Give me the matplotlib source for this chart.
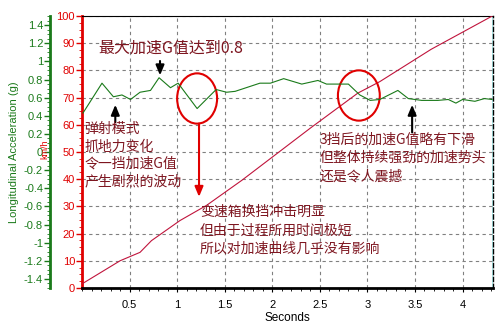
import matplotlib.pyplot as plt
from matplotlib.patches import Ellipse
from matplotlib.ticker import MultipleLocator

plt.rcParams['font.family'] = ['Liberation Sans', 'DejaVu Sans']

# speed trace (km/h)
speed_t = [0.0, 0.40, 0.61, 0.73, 1.03, 1.31, 1.68, 2.40, 2.90, 3.13, 3.67, 4.31]
speed_kmh = [1.5, 10.0, 13.1, 17.4, 24.8, 30.4, 39.6, 58.8, 71.7, 75.9, 87.8, 100.0]

# longitudinal acceleration trace (g)
acc_t = [0.01, 0.21, 0.33, 0.42, 0.51, 0.61, 0.72, 0.81, 0.93, 1.01, 1.21, 1.41,
         1.52, 1.61, 1.87, 1.98, 2.12, 2.31, 2.48, 2.57, 2.80, 2.92, 3.03, 3.13,
         3.32, 3.43, 3.57, 3.74, 3.85, 3.93, 4.00, 4.13, 4.23, 4.31]
acc_g = [0.43, 0.76, 0.61, 0.63, 0.58, 0.66, 0.68, 0.82, 0.71, 0.76, 0.48, 0.69,
         0.66, 0.67, 0.76, 0.76, 0.81, 0.75, 0.79, 0.75, 0.75, 0.63, 0.57, 0.58,
         0.68, 0.59, 0.57, 0.57, 0.58, 0.54, 0.58, 0.56, 0.59, 0.58]

x_ticks = [0.5, 1, 1.5, 2, 2.5, 3, 3.5, 4]
speed_ticks = list(range(0, 101, 10))
acc_ticks = [-1.4, -1.2, -1, -0.8, -0.6, -0.4, -0.2, 0, 0.2, 0.4, 0.6, 0.8, 1, 1.2, 1.4]

red = '#e00000'
green = '#1a7a1a'
note = '#7e1620'
cjk = ['Noto Sans CJK SC', 'DejaVu Sans']

fig = plt.figure(figsize=(5, 3.36), dpi=100)
ax = fig.add_axes([0.164, 0.143, 0.822, 0.809])

ax.plot(speed_t, speed_kmh, color='#c0143c', lw=0.8, zorder=3)
ax.set_xlim(0, 4.32)
ax.set_ylim(0, 100)
ax.set_xticks(x_ticks)
ax.set_xticklabels(['%g' % v for v in x_ticks])
ax.xaxis.set_minor_locator(MultipleLocator(0.1))
ax.set_yticks(speed_ticks)
ax.yaxis.set_minor_locator(MultipleLocator(2.5))
ax.tick_params(axis='x', labelsize=8, length=3, width=0.8, pad=6)
ax.tick_params(axis='x', which='minor', length=2, width=0.6)
ax.tick_params(axis='y', colors=red, labelsize=8, length=4, width=1, pad=1)
ax.tick_params(axis='y', which='minor', colors=red, length=2, width=0.6)
ax.set_xlabel('Seconds', fontsize=8.5, labelpad=1)
ax.grid(True, color='#808080', ls=(0, (3, 3)), lw=0.8)
ax.spines['left'].set_color(red)
ax.spines['left'].set_linewidth(2)
ax.spines['bottom'].set_linewidth(2)
ax.spines['top'].set_linewidth(0.8)
ax.spines['right'].set_linestyle((0, (3, 2)))
ax.spines['right'].set_linewidth(1)
ax.axvline(4.32, color='#aaf0f0', lw=2, zorder=0)

# acceleration on its own axis, offset to the left (32 px)
ax2 = ax.twinx()
ax2.plot(acc_t, acc_g, color=green, lw=0.8, zorder=3)
ax2.set_ylim(-1.5, 1.5)
ax2.yaxis.tick_left()
ax2.spines['left'].set_position(('outward', 23))
ax2.spines['left'].set_color(green)
ax2.spines['left'].set_linewidth(2)
ax2.spines['right'].set_visible(False)
ax2.spines['top'].set_visible(False)
ax2.spines['bottom'].set_visible(False)
ax2.set_yticks(acc_ticks)
ax2.set_yticklabels(['%g' % v for v in acc_ticks])
ax2.yaxis.set_minor_locator(MultipleLocator(0.05))
ax2.tick_params(axis='y', colors=green, labelsize=8, length=4, width=1, pad=1)
ax2.tick_params(axis='y', which='minor', colors=green, length=2, width=0.6)

fig.text(0.028, 0.547, 'Longitudinal Acceleration (g)', color=green, fontsize=8,
         rotation=90, ha='center', va='center')
fig.text(0.09, 0.555, 'km/h', color=red, fontsize=6.5, rotation=90,
         ha='center', va='center')

# notes, ellipses and arrows drawn in speed coordinates
ax.text(0.17, 88.2, '最大加速G值达到0.8', family=cjk, fontsize=11.5,
        color=note, ha='left', va='center', zorder=5)
ax.text(0.025, 61, '弹射模式\n抓地力变化\n令一挡加速G值\n产生剧烈的波动', family=cjk,
        fontsize=10, color=note, ha='left', va='top', linespacing=1.3, zorder=5)
ax.text(1.24, 30.5, '变速箱换挡冲击明显\n但由于过程所用时间极短\n所以对加速曲线几乎没有影响',
        family=cjk, fontsize=10, color=note, ha='left', va='top',
        linespacing=1.4, zorder=5)
ax.text(2.50, 57.2, '3挡后的加速G值略有下滑\n但整体持续强劲的加速势头\n还是令人震撼',
        family=cjk, fontsize=10, color=note, ha='left', va='top',
        linespacing=1.4, zorder=5)

black_arrow = dict(arrowstyle='-|>,head_length=0.6,head_width=0.25',
                   color='black', lw=1.5, shrinkA=0, shrinkB=0)
ax.annotate('', xy=(0.82, 78.2), xytext=(0.82, 83.5), arrowprops=black_arrow)
ax.annotate('', xy=(0.35, 67.4), xytext=(0.35, 61), arrowprops=black_arrow)
ax.annotate('', xy=(3.47, 67.4), xytext=(3.47, 57.2), arrowprops=black_arrow)

red_arrow = dict(arrowstyle='-|>,head_length=0.6,head_width=0.25',
                 color=red, lw=1.5, shrinkA=0, shrinkB=0)
ax.annotate('', xy=(1.23, 33.5), xytext=(1.23, 60.5), arrowprops=red_arrow)

ax.add_patch(Ellipse((1.21, 69.7), 0.42, 18.5, fill=False, ec=red, lw=1.5, zorder=4))
ax.add_patch(Ellipse((2.91, 70.8), 0.44, 18.5, fill=False, ec=red, lw=1.5, zorder=4))

fig.savefig('out.png', dpi=100, facecolor='white')
